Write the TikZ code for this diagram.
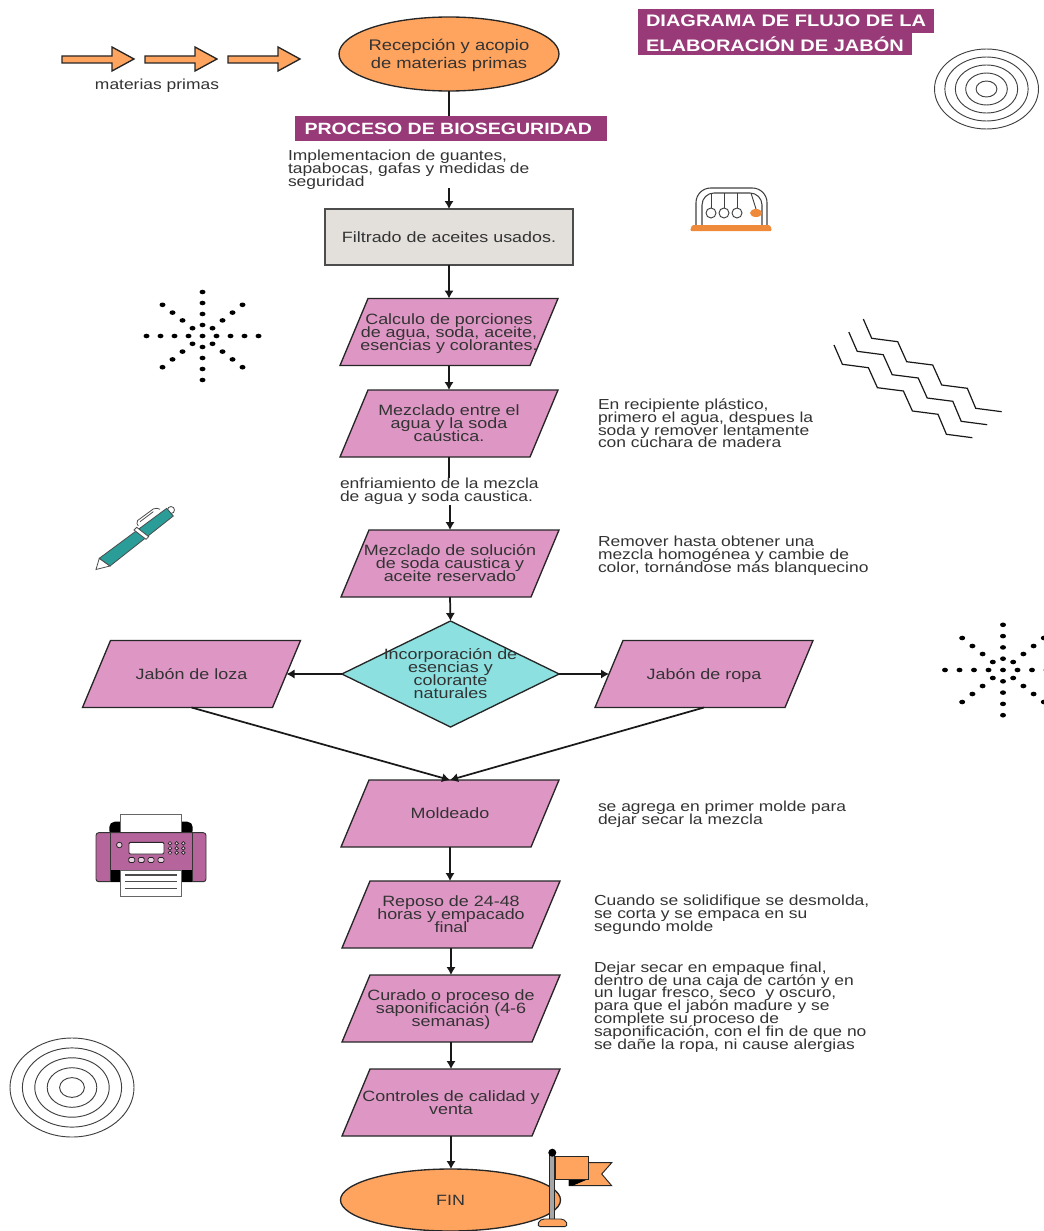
\documentclass[tikz,border=0pt]{standalone}
\usepackage{fontspec}
\setmainfont{Liberation Sans}[FakeStretch=1.2]
\usetikzlibrary{arrows.meta, shapes.geometric}

\definecolor{naranja}{HTML}{FFA45F}
\definecolor{naranjafuerte}{HTML}{EE8A3A}
\definecolor{rosado}{HTML}{DE97C5}
\definecolor{morado}{HTML}{983A78}
\definecolor{turquesa}{HTML}{8CE0E0}
\definecolor{grisbox}{HTML}{E3E0DC}
\definecolor{texto}{HTML}{333333}
\definecolor{verdepen}{HTML}{2A9D98}
\definecolor{impresora}{HTML}{B5659B}

% text that may overrun its shape
\newcommand{\ptxt}[2][9.75pt]{\makebox[0pt]{\parbox[c]{300pt}{\centering\baselineskip=#1\lineskiplimit=-6pt \rule[-3pt]{0pt}{14pt}#2\rule[-3pt]{0pt}{11pt}}}}
\newcommand{\apretado}{\lineskiplimit=-6pt\relax}

% parallelogram with the anchors on its slanted sides
\makeatletter
\pgfdeclareshape{paralelo}{
  \inheritsavedanchors[from=rectangle]
  \inheritanchorborder[from=rectangle]
  \inheritanchor[from=rectangle]{center}
  \inheritanchor[from=rectangle]{north}
  \inheritanchor[from=rectangle]{south}
  \anchor{east}{\pgf@process{\northeast}\pgf@xa=\pgf@x\pgf@ya=\pgf@y
    \pgf@process{\southwest}\pgf@y=.5\pgf@y\advance\pgf@y by .5\pgf@ya
    \pgf@x=\pgf@xa\advance\pgf@x by -10.5pt}
  \anchor{west}{\pgf@process{\southwest}\pgf@xa=\pgf@x\pgf@ya=\pgf@y
    \pgf@process{\northeast}\pgf@y=.5\pgf@y\advance\pgf@y by .5\pgf@ya
    \pgf@x=\pgf@xa\advance\pgf@x by 10.5pt}
  \backgroundpath{
    \pgf@process{\southwest}\pgf@xa=\pgf@x\pgf@ya=\pgf@y
    \pgf@process{\northeast}\pgf@xb=\pgf@x\pgf@yb=\pgf@y
    \pgfpathmoveto{\pgfqpoint{\pgf@xa}{\pgf@ya}}
    \pgfpathlineto{\pgfpoint{\pgf@xa+21pt}{\pgf@yb}}
    \pgfpathlineto{\pgfqpoint{\pgf@xb}{\pgf@yb}}
    \pgfpathlineto{\pgfpoint{\pgf@xb-21pt}{\pgf@ya}}
    \pgfpathclose
  }
}
\makeatother

\tikzset{
  base/.style={text=texto, inner sep=0pt, outer sep=0pt, font=\fontsize{11.2}{9.75}\selectfont},
  paral/.style={base, draw=black!85, line width=1pt, fill=rosado, shape=paralelo,
    minimum width=163.5pt, minimum height=50.25pt},
  elipse/.style={base, draw=black!85, line width=1pt, fill=naranja, ellipse,
    minimum width=165pt},
  rombo/.style={base, draw=black!85, line width=1pt, fill=turquesa, diamond, aspect=2,
    minimum width=163pt, minimum height=79.5pt},
  caja/.style={base, draw=black!70, line width=1.4pt, fill=grisbox,
    minimum width=186pt, minimum height=42pt},
  banda/.style={fill=morado, text=white, inner sep=0pt, outer sep=0pt,
    font=\fontsize{12.4}{14}\selectfont\bfseries},
  nota/.style={base, align=left, font=\fontsize{10.9}{9.6}\selectfont\apretado},
  flecha/.style={-{Latex[length=6pt,width=7pt]}, line width=1.3pt, black!90},
  linea/.style={line width=1.3pt, black!90},
  anillo/.style={black!75, line width=.7pt},
  onda/.style={black!90, line width=.9pt},
  contorno/.style={draw=black!85, line width=.7pt},
}

\begin{document}
\begin{tikzpicture}[x=.75pt, y=-.75pt]

\useasboundingbox (0,0) rectangle (1044,1231);

% nodes of the main column
\node[elipse, minimum height=55.5pt, font=\fontsize{11.5}{13.5}\selectfont] (recep) at (449,54) {\ptxt[13.5pt]{Recepción y acopio\\de materias primas}};
\node[banda, minimum width=234pt, minimum height=19pt, font=\fontsize{12.2}{14}\selectfont\bfseries] (bio) at (451,128.5) {\hspace*{-4pt}PROCESO DE BIOSEGURIDAD};
\node[caja] (filtro) at (449,237) {\ptxt{Filtrado de aceites usados.}};
\node[paral] (calc) at (449,332) {\ptxt{Calculo de porciones\\de agua, soda, aceite,\\esencias y colorantes.}};
\node[paral] (mezc) at (449,423.5) {\ptxt{Mezclado entre el\\agua y la soda\\caustica.}};
\node[paral] (sol) at (450,563.5) {\ptxt{Mezclado de solución\\de soda caustica y\\aceite reservado}};
\node[rombo] (inc) at (450.5,674) {\ptxt{Incorporación de\\esencias y\\colorante\\naturales}};
\node[paral] (loza) at (191.5,674) {\ptxt{Jabón de loza}};
\node[paral] (ropa) at (704,674) {\ptxt{Jabón de ropa}};
\node[paral] (molde) at (450,813.5) {\ptxt{Moldeado}};
\node[paral] (repo) at (451,914.5) {\ptxt{Reposo de 24-48\\horas y empacado\\final}};
\node[paral] (cura) at (451,1008.5) {\ptxt{Curado o proceso de\\saponificación (4-6\\semanas)}};
\node[paral] (ctrl) at (451,1102.5) {\ptxt{Controles de calidad y\\venta}};
\node[elipse, minimum height=46.5pt] (fin) at (450.5,1200) {\ptxt{FIN}};

\coordinate (a1) at (449,188);
\coordinate (a2) at (449,478);
\coordinate (a3) at (450,505);

% connectors
\draw[linea] (recep.south) -- (recep.south |- bio.north);
\draw[flecha] (a1) -- (a1 |- filtro.north);
\draw[flecha] (filtro.south) -- (filtro.south |- calc.north);
\draw[flecha] (calc.south) -- (calc.south |- mezc.north);
\draw[linea] (mezc.south) -- (a2);
\draw[flecha] (a3) -- (a3 |- sol.north);
\draw[flecha] (sol.south) -- (inc.north);
\draw[flecha] (inc.west) -- (loza.east);
\draw[flecha] (inc.east) -- (ropa.west);
\draw[flecha] (loza.south) -- (molde.north);
\draw[flecha] (ropa.south) -- (molde.north);
\draw[flecha] (molde.south) -- (molde.south |- repo.north);
\draw[flecha] (repo.south) -- (repo.south |- cura.north);
\draw[flecha] (cura.south) -- (cura.south |- ctrl.north);
\draw[flecha] (ctrl.south) -- (ctrl.south |- fin.north);

% title
\node[banda, anchor=west, inner xsep=6pt, minimum height=18pt, font=\fontsize{12.5}{14}\selectfont\bfseries] (tit1) at (638,21) {DIAGRAMA DE FLUJO DE LA};
\node[banda, anchor=west, inner xsep=6pt, minimum height=17pt, font=\fontsize{12.5}{14}\selectfont\bfseries] (tit2) at (638,44) {ELABORACIÓN DE JABÓN};

% notes
\node[base, font=\fontsize{10.9}{13}\selectfont] (mat) at (157,86) {materias primas};
\node[nota, anchor=west] (n1) at (288,170) {Implementacion de guantes,\\tapabocas, gafas y medidas de\\seguridad};
\node[nota, anchor=west] (n2) at (340,491.5) {enfriamiento de la mezcla\\de agua y soda caustica.};
\node[nota, anchor=west] (n3) at (598,423.5) {En recipiente plástico,\\primero el agua, despues la\\soda y remover lentamente\\con cuchara de madera};
\node[nota, anchor=west] (n4) at (598,556) {Remover hasta obtener una\\mezcla homogénea y cambie de\\color, tornándose más blanquecino};
\node[nota, anchor=west] (n5) at (598,814.5) {se agrega en primer molde para\\dejar secar la mezcla};
\node[nota, anchor=west] (n6) at (594,915) {Cuando se solidifique se desmolda,\\se corta y se empaca en su\\segundo molde};
\node[nota, anchor=west] (n7) at (594,1007) {Dejar secar en empaque final,\\dentro de una caja de cartón y en\\un lugar fresco, seco\ \ y oscuro,\\para que el jabón madure y se\\complete su proceso de\\saponificación, con el fin de que no\\se dañe la ropa, ni cause alergias};

% block arrows
\foreach \x in {0,83,166}
\draw[contorno, fill=naranja, line width=1pt, shift={(\x,0)}]
(62,56) -- (112,56) -- (112,47) -- (134,59) -- (112,71) -- (112,63) -- (62,63) -- cycle;

% rings
\foreach \r in {1,.8,.6,.4,.2}
\draw[anillo] (986.5,89) ellipse ({52*\r} and {40*\r});
\foreach \r in {1,.8,.6,.4,.2}
\draw[anillo] (72,1087.5) ellipse ({62*\r} and {49.5*\r});

% dots
\foreach \k in {1,2,3,4} {
\foreach \sx/\sy in {1/0,-1/0,0/1,0/-1}
\fill (202.5+14*\k*\sx, 336+11*\k*\sy) ellipse (3 and 2.3);
\foreach \sx/\sy in {1/1,-1/1,1/-1,-1/-1}
\fill (202.5+10*\k*\sx, 336+7.8*\k*\sy) ellipse (3 and 2.3);
\foreach \sx/\sy in {1/0,-1/0,0/1,0/-1}
\fill (1003+14.5*\k*\sx, 670+11.3*\k*\sy) ellipse (3 and 2.3);
\foreach \sx/\sy in {1/1,-1/1,1/-1,-1/-1}
\fill (1003+10.2*\k*\sx, 670+8*\k*\sy) ellipse (3 and 2.3);
}
\fill (202.5,336) ellipse (3 and 2.3);
\fill (1003,670) ellipse (3 and 2.3);

% waves
\foreach \dx/\dy in {0/0,-14.5/13,-29.3/26}
\draw[onda, shift={(\dx,\dy)}] (863.3,319) -- (871.7,338.3) -- (897.7,341.7) -- (906.7,361.7) -- (932.7,365)
-- (941.7,385) -- (967.3,388.3) -- (975.7,408.3) -- (1001.7,411.7);

% cradle
\draw[black!75, line width=.8pt, rounded corners=11pt] (696,226) -- (696,188) -- (767,188) -- (767,226);
\draw[black!75, line width=.8pt, rounded corners=9pt] (702,226) -- (702,193) -- (762,193) -- (762,226);
\foreach \x in {711,724,737} {
\draw[black!75, line width=.7pt] (\x,193) -- (\x,208);
\draw[black!75, line width=.7pt, fill=white] (\x,213) circle (5);
}
\draw[black!75, line width=.7pt] (751,193) -- (756,209);
\fill[naranjafuerte] (756,213) ellipse (6 and 4);
\fill[naranjafuerte, rounded corners=1pt] (690,231) -- (692,225) -- (770,225) -- (772,231) -- cycle;

% pen
\draw[black!70, line width=.6pt, fill=white] (99.3,558.3) -- (96,569.5) -- (110,566) -- cycle;
\draw[black!70, line width=.6pt, fill=white] (171,510) circle (3.5);
\draw[black!70, line width=.6pt, fill=verdepen] (99.3,558.3) -- (110,566) -- (173.3,516) -- (166.7,508.3) -- cycle;
\draw[black!70, line width=.6pt, fill=white] (136.7,527.3) -- (148.7,536.7) -- (146,539.3) -- (134,530) -- cycle;
\draw[black!70, line width=.6pt, rounded corners=1.5pt] (138.3,526) -- (136,521.7) -- (155,507.7) -- (160,509.3);
\draw[black!70, line width=.6pt] (140,521.7) -- (153.3,511.7);

% printer
\fill[black, rounded corners=4pt] (109.3,836) -- (109.3,821.7) -- (192.7,821.7) -- (192.7,836) -- cycle;
\draw[black!60, line width=.7pt, fill=white] (120.7,814) rectangle (181.7,833);
\draw[black!80, line width=.7pt, fill=impresora, rounded corners=2pt] (96,832.7) rectangle (206,881.7);
\fill[black] (110,870) rectangle (192.3,881.7);
\draw[black!80, line width=.7pt] (110,832.7) -- (110,881.7) (192.3,832.7) -- (192.3,881.7);
\draw[black!60, line width=.7pt, fill=white] (120.7,870.7) rectangle (181.7,896);
\foreach \y in {875,881.7,888.3}
\draw[black!70, line width=.8pt] (125,\y) -- (177.3,\y);
\draw[black!85, line width=.7pt, fill=white, rounded corners=1pt] (129,842.3) rectangle (164,854);
\draw[black!85, line width=.6pt, fill=white!70!impresora] (119.3,845) circle (2.8);
\foreach \x in {131.7,141.3,151,161}
\draw[black!85, line width=.6pt, fill=white!70!impresora, rounded corners=1pt] (\x-3,857.5) rectangle (\x+3,862.5);
\foreach \x in {170,176.7,183.3}
\foreach \y in {843.3,848.3,852.7}
\draw[black!85, line width=.5pt, fill=white!70!impresora] (\x,\y) circle (1.8);

% flag
\draw[contorno, fill=naranja] (588.3,1162.7) -- (611.7,1162.7) -- (601.7,1174) -- (611.7,1185.7) -- (569,1185.7) -- (569,1179) -- cycle;
\fill[black] (569,1179) -- (588.3,1179) -- (572.7,1185.7) -- (569,1185.7) -- cycle;
\draw[contorno, fill=naranja] (555,1156) rectangle (588.3,1179);
\draw[contorno, fill=black!35] (549.5,1155) rectangle (554,1219);
\fill[black] (552.3,1152.7) circle (4);
\draw[contorno, fill=naranja, rounded corners=3pt] (536.7,1226.7) -- (540,1219) -- (565,1219) -- (568.3,1226.7) -- cycle;

\end{tikzpicture}
\end{document}
